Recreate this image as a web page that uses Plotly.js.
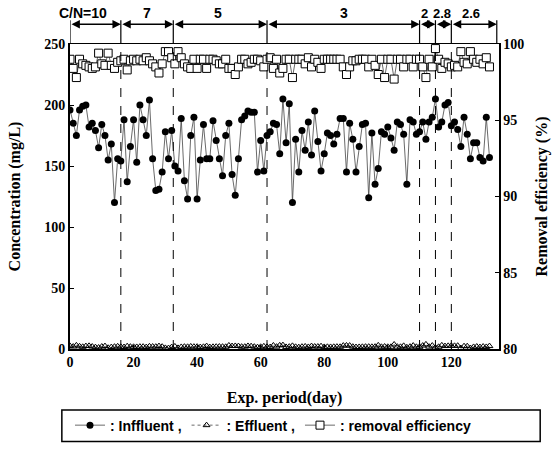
<!DOCTYPE html>
<html>
<head>
<meta charset="utf-8">
<script src="https://cdn.plot.ly/plotly-3.0.1.min.js"></script>
<style>html,body{margin:0;padding:0;background:#fff}#chart{width:555px;height:454px}</style>
</head>
<body>
<div id="chart"></div>
<script>
// ---- data ----
const influent = [196,185,175,196,199,200,182,185,179,165,184,175,155,168,120,156,154,188,137,166,
  188,153,200,188,175,204,156,130,131,145,178,156,179,150,146,189,138,123,175,190,
  123,155,184,156,156,187,171,156,142,175,185,143,126,156,188,191,195,194,194,145,
  171,146,175,178,185,184,160,205,169,201,120,172,145,179,163,186,159,195,170,146,
  160,177,175,168,176,189,189,145,185,172,145,166,184,185,124,177,135,148,178,176,
  182,173,163,186,184,176,135,188,186,176,178,186,172,186,190,205,182,186,200,202,
  183,186,180,166,190,176,156,169,169,157,154,190,157];
const effluent = [2.5,2.0,3.0,2.2,1.8,2.4,2.6,2.0,1.5,1.2,2.0,2.4,1.0,1.6,1.9,2.2,1.8,1.6,2.3,1.9,
  1.8,1.7,1.9,1.9,1.6,2.2,2.0,1.9,2.4,1.9,0.9,0.8,1.6,2.1,0.9,1.7,1.9,1.8,2.1,1.9,
  1.9,1.6,1.8,2.4,1.6,1.8,1.9,2.0,1.9,1.8,2.9,2.4,2.5,2.4,1.9,1.9,2.5,2.3,1.9,1.5,
  1.8,2.2,1.8,1.6,2.9,1.9,3.0,3.2,1.7,1.9,2.6,1.8,1.5,1.9,2.1,1.7,2.4,2.0,2.0,2.3,
  1.7,1.8,1.7,1.8,1.9,1.8,2.8,2.9,2.8,1.9,1.6,1.7,1.8,1.9,1.9,1.8,1.9,3.0,1.8,2.0,
  1.8,1.8,3.7,1.9,1.8,2.6,1.4,1.9,2.8,1.8,1.8,2.8,3.8,1.9,2.8,1.2,1.8,3.0,2.4,2.6,
  2.7,2.6,2.7,0.8,2.3,2.3,0.8,1.7,2.0,1.6,2.0,1.7,2.4];
const removal = [99.0,98.4,97.8,99.0,98.7,98.6,98.5,98.4,98.5,99.4,98.7,98.6,99.4,98.6,98.4,98.8,98.9,99.0,98.3,98.9,
  99.0,98.9,99.0,98.9,99.1,98.9,98.7,98.5,98.1,98.7,99.5,99.5,99.1,98.7,99.5,99.1,98.7,98.5,98.4,99.0,
  98.4,99.0,99.0,98.4,99.0,99.0,98.9,98.7,98.7,99.0,98.4,98.4,98.0,98.5,99.0,99.0,98.7,98.8,99.0,99.0,
  98.9,98.5,99.0,99.1,98.4,99.0,98.1,98.4,99.0,99.0,97.8,99.0,99.0,99.0,98.7,99.1,98.5,99.0,98.8,98.4,
  99.0,99.0,99.0,99.0,99.0,99.0,98.5,98.0,98.5,98.9,98.9,99.0,99.0,99.0,98.5,99.0,98.6,98.0,99.0,97.8,
  99.0,99.0,97.7,99.0,99.0,98.5,99.0,99.0,98.5,99.0,99.0,98.5,97.8,99.0,98.5,99.7,99.0,98.4,98.8,98.7,
  98.5,98.6,98.5,99.5,98.8,98.7,99.5,99.0,98.8,99.0,98.7,99.1,98.5];
const days = influent.map((_, i) => i);
const phaseBounds = [0, 16, 32.5, 62, 110, 115, 120, 134.3];
const phaseLabels = ['C/N=10', '7', '5', '3', '2', '2.8', '2.6'];
const xTicks = [0, 20, 40, 60, 80, 100, 120];
const yTicks = [0, 50, 100, 150, 200, 250];
const y2Ticks = [80, 85, 90, 95, 100];

// ---- layout helpers ----
const serif = 'Liberation Serif, Times New Roman, serif';
const sans = 'Liberation Sans, Arial, sans-serif';
const labelX = [4.1, 24.3, 46.5, 86.3, 111.4, 117.2, 126.3];

const traces = [
  {x: days, y: influent, name: ': Inffluent ,', type: 'scatter', mode: 'lines+markers',
   line: {color: '#444', width: 0.8}, marker: {symbol: 'circle', size: 7, color: '#000'}},
  {x: days, y: effluent, name: ': Effluent ,', type: 'scatter', mode: 'lines+markers',
   line: {color: '#444', width: 0.8, dash: 'dot'},
   marker: {symbol: 'triangle-up-open', size: 6, color: '#000', line: {width: 1}}},
  {x: days, y: removal, name: ': removal efficiency', type: 'scatter', mode: 'lines+markers', yaxis: 'y2',
   line: {color: '#444', width: 0.8},
   marker: {symbol: 'square', size: 8, color: '#fff', line: {color: '#000', width: 1}}}
];

const shapes = [];
const annotations = [];
for (let i = 1; i < phaseBounds.length - 1; i++) {
  shapes.push({type: 'line', xref: 'x', yref: 'paper', x0: phaseBounds[i], x1: phaseBounds[i], y0: 0, y1: 1,
    line: {color: '#000', width: 1, dash: 'dash'}});
}
for (let i = 0; i < phaseBounds.length; i++) {
  shapes.push({type: 'line', xref: 'x', yref: 'paper', x0: phaseBounds[i], x1: phaseBounds[i], y0: 1, y1: 1.078,
    line: {color: '#000', width: 1.2}});
}
for (let i = 0; i < phaseLabels.length; i++) {
  annotations.push({xref: 'x', yref: 'paper', axref: 'x', ayref: 'pixel',
    x: phaseBounds[i + 1], ax: phaseBounds[i], y: 1.0647, ay: 0, text: '', showarrow: true,
    arrowside: 'end+start', arrowhead: 2, startarrowhead: 2, arrowsize: 1.2, startarrowsize: 1.2,
    arrowwidth: 1.4, arrowcolor: '#000', standoff: 0, startstandoff: 0});
  annotations.push({xref: 'x', yref: 'paper', x: labelX[i], y: 1.10, text: phaseLabels[i], showarrow: false,
    xanchor: 'center', yanchor: 'middle',
    font: {family: sans, size: (i >= 4 ? 13 : 14), weight: 'bold', color: '#000'}});
}
// legend frame
shapes.push({type: 'rect', xref: 'paper', yref: 'paper', x0: -0.019, x1: 1.096, y0: -0.2, y1: -0.303,
  line: {color: '#000', width: 1.5}});

const layout = {
  width: 555, height: 454,
  margin: {l: 70, r: 56, t: 44, b: 101},
  paper_bgcolor: '#fff', plot_bgcolor: '#fff',
  showlegend: true,
  legend: {orientation: 'h', x: 0.0, xanchor: 'left', y: -0.251, yanchor: 'middle',
    font: {family: sans, size: 14, weight: 'bold', color: '#000'}, itemwidth: 30,
    bgcolor: 'rgba(0,0,0,0)', borderwidth: 0, traceorder: 'normal'},
  xaxis: {range: [0, 135], tickvals: xTicks, ticks: 'inside', ticklen: 4, tickcolor: '#000',
    showline: true, linecolor: '#000', linewidth: 1.5, mirror: true, showgrid: false, zeroline: false,
    tickfont: {family: serif, size: 14, weight: 'bold', color: '#000'},
    title: {text: 'Exp. period(day)', font: {family: serif, size: 16, weight: 'bold', color: '#000'}, standoff: 22}},
  yaxis: {range: [0, 250], tickvals: yTicks, ticks: 'inside', ticklen: 4, tickcolor: '#000',
    showline: true, linecolor: '#000', linewidth: 2, showgrid: false, zeroline: false,
    tickfont: {family: serif, size: 14, weight: 'bold', color: '#000'},
    title: {text: 'Concentration (mg/L)', font: {family: serif, size: 16, weight: 'bold', color: '#000'}, standoff: 20}},
  yaxis2: {range: [80, 100], tickvals: y2Ticks, overlaying: 'y', side: 'right', ticks: 'inside', ticklen: 4,
    tickcolor: '#000', showline: true, linecolor: '#000', linewidth: 1.5, showgrid: false, zeroline: false,
    tickfont: {family: serif, size: 14, weight: 'bold', color: '#000'},
    title: {text: 'Removal efficiency (%)', font: {family: serif, size: 16, weight: 'bold', color: '#000'}, standoff: 12}},
  shapes: shapes,
  annotations: annotations
};

Plotly.newPlot('chart', traces, layout, {displayModeBar: false, staticPlot: true});
</script>
</body>
</html>
